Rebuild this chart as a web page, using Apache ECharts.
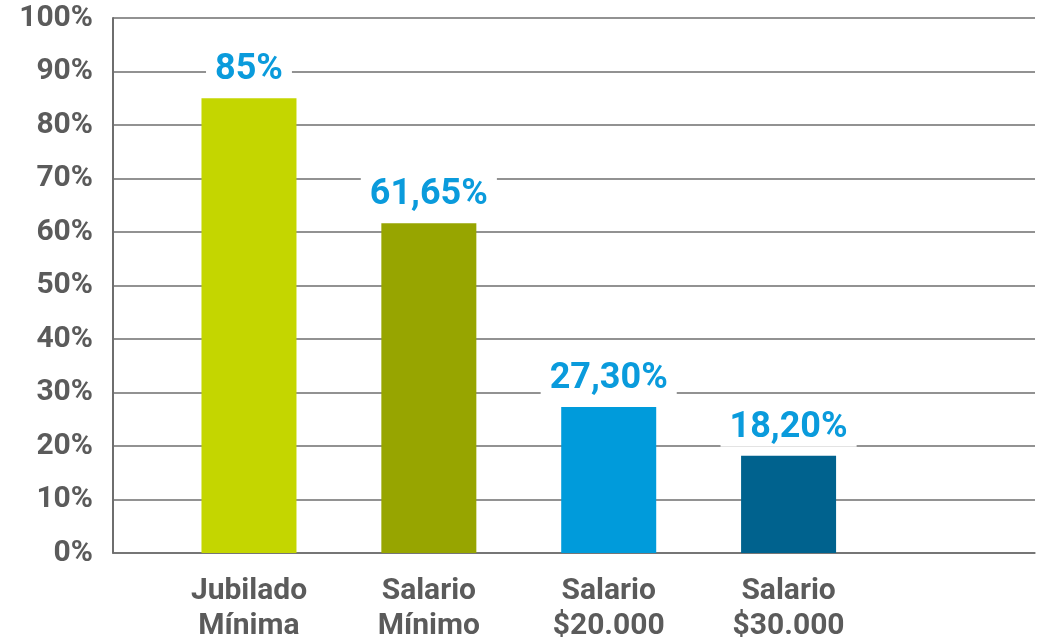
<!DOCTYPE html>
<html>
<head>
<meta charset="utf-8">
<script src="https://cdn.jsdelivr.net/npm/echarts@6/dist/echarts.min.js"></script>
<style>
  html, body { margin: 0; padding: 0; background: #fff; }
  #chart { width: 1037px; height: 638px; }
</style>
</head>
<body>
<div id="chart"></div>
<script>
const categories = ['Jubilado\nMínima', 'Salario\nMínimo', 'Salario\n$20.000', 'Salario\n$30.000']
const values = [85, 61.65, 27.3, 18.2]
const valueLabels = ['85%', '61,65%', '27,30%', '18,20%']
const yTicks = [0, 10, 20, 30, 40, 50, 60, 70, 80, 90, 100]

const barColors = ['#c4d600', '#97a500', '#009bdb', '#00628e']
const textGray = '#5b5b5b'
const lineGray = '#6e6e6e'

const chart = echarts.init(document.getElementById('chart'))

chart.setOption({
  animation: false,
  grid: { left: 113, right: 2, top: 18, bottom: 85, outerBoundsMode: 'none', containLabel: false },
  xAxis: {
    type: 'value',
    min: -0.756,
    max: 4.37,
    splitLine: { show: false },
    axisTick: { show: false },
    axisLine: { show: true, onZero: false, lineStyle: { color: lineGray, width: 1.5 } },
    axisLabel: {
      customValues: [0, 1, 2, 3],
      formatter: v => categories[Math.round(v)] || '',
      color: textGray,
      fontFamily: 'Roboto',
      fontWeight: 'bold',
      fontSize: 30,
      lineHeight: 35,
      margin: 21
    }
  },
  yAxis: {
    type: 'value',
    min: yTicks[0],
    max: yTicks[yTicks.length - 1],
    interval: 10,
    axisLine: { show: true, onZero: false, lineStyle: { color: lineGray, width: 2 } },
    axisTick: { show: false },
    splitLine: { lineStyle: { color: lineGray, width: 1.5 } },
    axisLabel: {
      formatter: '{value}%',
      color: textGray,
      fontFamily: 'Roboto',
      fontWeight: 'bold',
      fontSize: 30,
      margin: 20
    }
  },
  series: [{
    type: 'bar',
    barWidth: 95,
    data: values.map((v, i) => ({
      value: [i, v],
      itemStyle: { color: barColors[i] }
    })),
    label: {
      show: true,
      position: 'top',
      distance: 9,
      formatter: p => valueLabels[p.dataIndex],
      color: '#0a9bdc',
      fontFamily: 'Roboto',
      fontWeight: 'bold',
      fontSize: 36,
      lineHeight: 34,
      backgroundColor: '#fff',
      padding: [2, 9]
    }
  }]
})

window.addEventListener('resize', () => chart.resize())
</script>
</body>
</html>
